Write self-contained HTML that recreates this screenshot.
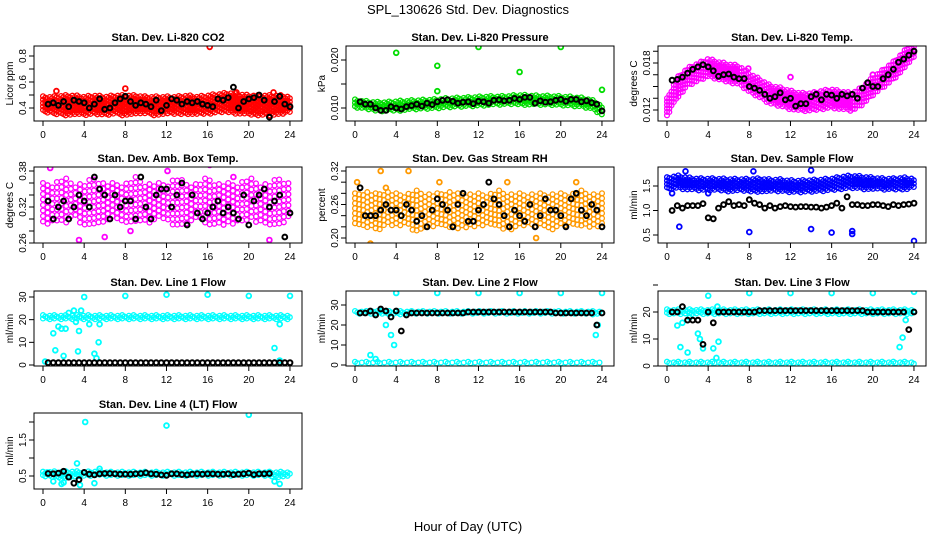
<!DOCTYPE html>
<html><head><meta charset="utf-8"><style>
body{margin:0;background:#fff;}
svg{display:block;font-family:"Liberation Sans",Arial,sans-serif;}
</style></head><body>
<svg id="c" width="936" height="540" viewBox="0 0 936 540">
<text x="468" y="14" text-anchor="middle" font-size="13">SPL_130626  Std. Dev. Diagnostics</text>
<text x="468" y="531" text-anchor="middle" font-size="13">Hour of Day (UTC)</text>
</svg>
<script>
const hours=[0,1,2,3,4,5,6,7,8,9,10,11,12,13,14,15,16,17,18,19,20,21,22,23,24];
const blackTimes=[0.5,1,1.5,2,2.5,3,3.5,4,4.5,5,5.5,6,6.5,7,7.5,8,8.5,9,9.5,10,10.5,11,11.5,12,12.5,13,13.5,14,14.5,15,15.5,16,16.5,17,17.5,18,18.5,19,19.5,20,20.5,21,21.5,22,22.5,23,23.5,24];
const xTicks=[0,4,8,12,16,20,24];
const titles=["Stan. Dev. Li-820 CO2","Stan. Dev. Li-820 Pressure","Stan. Dev. Li-820 Temp.","Stan. Dev. Amb. Box Temp.","Stan. Dev. Gas Stream RH","Stan. Dev. Sample Flow","Stan. Dev. Line 1 Flow","Stan. Dev. Line 2 Flow","Stan. Dev. Line 3 Flow","Stan. Dev. Line 4 (LT) Flow"];
const yLabels=["Licor ppm","kPa","degrees C","degrees C","percent","ml/min","ml/min","ml/min","ml/min","ml/min"];
const colors=["#ff0000","#00dd00","#ff00ff","#ff00ff","#ff9900","#0000ff","#00ffff","#00ffff","#00ffff","#00ffff"];
const yTicks=[[0.4,0.5,0.6,0.7,0.8],[0.010,0.015,0.020],[0.012,0.0135,0.015,0.0165,0.018,0.0195],[0.26,0.28,0.30,0.32,0.34,0.36,0.38],[0.20,0.22,0.24,0.26,0.28,0.30,0.32],[0.5,1.0,1.5],[0,10,20,30],[0,10,20,30],[0,10,20,30],[0.5,1.0,1.5,2.0]];
const yTickLabels=[["0.4","","0.6","","0.8"],["0.010","","0.020"],["0.012","","","","0.018",""],["0.26","","","0.32","","","0.38"],["0.20","","","0.26","","","0.32"],["0.5","1.0","1.5"],["0","10","20","30"],["0","10","20","30"],["0","10","20",""],["0.5","","1.5",""]];
const yRefVals=[[0.4,0.8],[0.010,0.020],[0.012,0.018],[0.26,0.38],[0.20,0.32],[0.5,1.5],[0,30],[0,30],[0,20],[0.5,1.5]];
const yRefPix=[[108,56],[108,60],[110,63],[243,171],[238,171],[235,186],[365,297],[365,305],[366,312],[476,440]];
const blackVals=[
[0.43,0.44,0.42,0.45,0.41,0.46,0.45,0.44,0.40,0.43,0.47,0.39,0.40,0.44,0.47,0.49,0.45,0.42,0.44,0.43,0.41,0.46,0.38,0.42,0.47,0.46,0.43,0.45,0.44,0.45,0.43,0.42,0.41,0.47,0.46,0.48,0.56,0.40,0.45,0.47,0.48,0.50,0.46,0.33,0.45,0.49,0.43,0.41],
[0.0113,0.0108,0.0108,0.0100,0.0095,0.0095,0.0103,0.0100,0.0098,0.0103,0.0105,0.0108,0.0104,0.0110,0.0107,0.0113,0.0116,0.0117,0.0114,0.0110,0.0112,0.0113,0.0109,0.0114,0.0113,0.0110,0.0116,0.0117,0.0115,0.0116,0.0120,0.0118,0.0122,0.0122,0.0110,0.0115,0.0112,0.0113,0.0116,0.0118,0.0114,0.0118,0.0118,0.0113,0.0115,0.0111,0.0108,0.0094],
[0.0158,0.0159,0.0162,0.0167,0.0172,0.0175,0.0178,0.0175,0.0170,0.0163,0.0165,0.0166,0.0162,0.0160,0.0160,0.0150,0.0148,0.0145,0.0140,0.0135,0.0137,0.0142,0.0133,0.0135,0.0125,0.0128,0.0128,0.0137,0.0140,0.0133,0.0140,0.0139,0.0135,0.0140,0.0138,0.0140,0.0135,0.0148,0.0155,0.0150,0.0150,0.0160,0.0165,0.0172,0.0181,0.0185,0.0190,0.0195],
[0.33,0.30,0.32,0.33,0.30,0.32,0.34,0.33,0.32,0.37,0.35,0.34,0.30,0.34,0.32,0.33,0.33,0.30,0.37,0.32,0.30,0.34,0.35,0.35,0.32,0.34,0.36,0.29,0.34,0.31,0.30,0.31,0.32,0.33,0.31,0.32,0.31,0.30,0.34,0.29,0.33,0.34,0.35,0.32,0.33,0.34,0.27,0.31],
[0.29,0.24,0.24,0.24,0.25,0.26,0.25,0.25,0.24,0.26,0.25,0.23,0.24,0.22,0.25,0.27,0.26,0.25,0.22,0.26,0.28,0.23,0.23,0.25,0.26,0.30,0.27,0.26,0.24,0.22,0.25,0.24,0.23,0.26,0.22,0.24,0.27,0.25,0.25,0.24,0.22,0.27,0.28,0.25,0.24,0.26,0.25,0.22],
[1.0,1.1,1.05,1.1,1.1,1.1,1.14,0.85,0.83,1.05,1.12,1.18,1.1,1.12,1.1,1.22,1.15,1.12,1.05,1.1,1.05,1.08,1.1,1.08,1.07,1.08,1.08,1.07,1.07,1.05,1.07,1.1,1.15,1.05,1.28,1.12,1.12,1.1,1.1,1.12,1.12,1.1,1.08,1.12,1.1,1.12,1.13,1.15],
[1,1,1,1,1,1,1,1,1,1,1,1,1,1,1,1,1,1,1,1,1,1,1,1,1,1,1,1,1,1,1,1,1,1,1,1,1,1,1,1,1,1,1,1,1,1,1,1],
[26,26,27,25,28,27,24,27,17,25,26,26,26,26,26,26,26,26,26,26,26,26.5,26.5,26.5,26.5,26.5,26.5,26.5,26.5,26.5,26.5,26.5,26.5,26.5,26.5,26.5,26.5,26.5,26,26,26,26,26,26,26,26,20,26],
[20,20,22,17,17,17,8,20,16,20,20,20,20,20,20,20,20,20.5,20.5,20.5,20.5,20.5,20.5,20.5,20.5,20.5,20.5,20.5,20.5,20.5,20.5,20.5,20.5,20.5,20.5,20.5,20.5,20.5,20,20,20,20,20,20,20,20,13.5,20],
[0.57,0.56,0.58,0.63,0.47,0.30,0.40,0.60,0.55,0.53,0.56,0.57,0.57,0.56,0.55,0.55,0.55,0.56,0.57,0.59,0.56,0.55,0.53,0.52,0.56,0.56,0.54,0.53,0.55,0.56,0.55,0.56,0.56,0.55,0.55,0.56,0.54,0.55,0.56,0.58,0.54,0.56,0.56,0.57]];
const bandLo=[
[0.37,0.35,0.34,0.35,0.34,0.35,0.34,0.35,0.34,0.35,0.35,0.34,0.35,0.35,0.35,0.35,0.35,0.36,0.36,0.35,0.35,0.34,0.34,0.35,0.36],
[0.0100,0.0097,0.0093,0.0093,0.0093,0.0095,0.0097,0.0098,0.0099,0.0100,0.0102,0.0103,0.0104,0.0105,0.0106,0.0106,0.0106,0.0106,0.0106,0.0106,0.0105,0.0104,0.0102,0.0098,0.0085],
[0.0112,0.0135,0.0150,0.0156,0.0162,0.0158,0.0155,0.0152,0.0143,0.0135,0.0128,0.0124,0.0120,0.0118,0.0118,0.0120,0.0122,0.0120,0.0118,0.0126,0.0138,0.0148,0.0158,0.0171,0.0186],
[0.29,0.29,0.29,0.30,0.29,0.29,0.29,0.30,0.29,0.29,0.29,0.30,0.29,0.29,0.29,0.30,0.29,0.29,0.29,0.29,0.30,0.29,0.29,0.29,0.30],
[0.22,0.22,0.21,0.22,0.22,0.22,0.21,0.22,0.22,0.22,0.21,0.22,0.22,0.22,0.22,0.21,0.22,0.22,0.22,0.21,0.22,0.22,0.22,0.22,0.22],
[1.42,1.45,1.42,1.40,1.40,1.40,1.38,1.40,1.38,1.38,1.38,1.38,1.36,1.36,1.38,1.38,1.40,1.42,1.45,1.42,1.42,1.42,1.42,1.42,1.45],
[20,20,20,20,20,20,20,20,20,20,20,20,20,20,20,20,20,20,20,20,20,20,20,20,20],
[0.6,0.6,0.6,0.6,0.6,0.6,0.6,0.6,0.6,0.6,0.6,0.6,0.6,0.6,0.6,0.6,0.6,0.6,0.6,0.6,0.6,0.6,0.6,0.6,0.6],
[0.6,0.6,0.6,0.6,0.6,0.6,0.6,0.6,0.6,0.6,0.6,0.6,0.6,0.6,0.6,0.6,0.6,0.6,0.6,0.6,0.6,0.6,0.6,0.6,0.6],
[0.47,0.45,0.40,0.45,0.48,0.50,0.50,0.50,0.50,0.50,0.50,0.50,0.50,0.50,0.50,0.50,0.50,0.50,0.50,0.50,0.50,0.50,0.48,0.45,0.48]];
const bandHi=[
[0.49,0.49,0.50,0.50,0.49,0.50,0.49,0.50,0.50,0.50,0.49,0.49,0.49,0.49,0.50,0.49,0.50,0.51,0.52,0.51,0.50,0.50,0.50,0.50,0.49],
[0.0118,0.0115,0.0113,0.0113,0.0115,0.0116,0.0117,0.0118,0.0119,0.0121,0.0122,0.0123,0.0124,0.0125,0.0125,0.0126,0.0128,0.0127,0.0126,0.0126,0.0125,0.0124,0.0122,0.0118,0.0105],
[0.0135,0.0162,0.0174,0.0180,0.0186,0.0182,0.0179,0.0177,0.0167,0.0160,0.0152,0.0149,0.0145,0.0142,0.0142,0.0145,0.0147,0.0144,0.0142,0.0150,0.0162,0.0172,0.0182,0.0195,0.0208],
[0.36,0.36,0.37,0.36,0.36,0.37,0.36,0.36,0.36,0.37,0.36,0.36,0.36,0.37,0.36,0.36,0.37,0.36,0.36,0.36,0.37,0.36,0.36,0.37,0.36],
[0.28,0.285,0.28,0.285,0.28,0.28,0.285,0.28,0.28,0.285,0.28,0.28,0.28,0.28,0.285,0.28,0.28,0.28,0.28,0.28,0.28,0.28,0.285,0.28,0.28],
[1.68,1.72,1.68,1.66,1.66,1.66,1.65,1.65,1.65,1.66,1.64,1.64,1.62,1.62,1.63,1.64,1.66,1.70,1.72,1.70,1.68,1.66,1.66,1.68,1.66],
[22,22,22,22,22,22,22,22,22,22,22,22,22,22,22,22,22,22,22,22,22,22,22,22,22],
[1.6,1.6,1.6,1.6,1.6,1.6,1.6,1.6,1.6,1.6,1.6,1.6,1.6,1.6,1.6,1.6,1.6,1.6,1.6,1.6,1.6,1.6,1.6,1.6,1.6],
[1.6,1.6,1.6,1.6,1.6,1.6,1.6,1.6,1.6,1.6,1.6,1.6,1.6,1.6,1.6,1.6,1.6,1.6,1.6,1.6,1.6,1.6,1.6,1.6,1.6],
[0.62,0.63,0.63,0.64,0.62,0.64,0.62,0.62,0.62,0.62,0.62,0.62,0.62,0.62,0.62,0.62,0.62,0.62,0.62,0.62,0.62,0.62,0.62,0.62,0.62]];
const band2Lo=[null,null,null,null,null,null,null,
[25.5,25.5,25.5,25,25,25.5,25.5,25.5,25.5,25.5,25.5,25.5,25.5,25.5,25.5,25.5,25.5,25.5,25.5,25.5,25.5,25.5,25.5,25,25],
[19,19,19,19,19,19,19,19,19,19,19,19,19,19,19,19,19,19,19,19,19,19,19,19,19],null];
const band2Hi=[null,null,null,null,null,null,null,
[27,27,27,27,27,27,27,27,27,27,27,27,27,27,27,27,27,27,27,27,27,27,27,27,27],
[21,21,21,21,21,21,21,21,21,21,21,21,21,21,21,21,21,21,21,21,21,21,21,21,21],null];
const outT=[[16.2,8,1.3,18.8,22.4],[4,8,8,12,16,20,24],[7.9,12,20],[0.7,3.5,8.5,12.1,16.2,18.5,22,6],[0.2,1.5,2.5,5.2,8.2,14.8,17.6,21.5,3],[0.5,1.2,8,14,16,18,18,24,4,1.8,14,8.4],
[0.2,1,1.2,1.5,1.8,2,2.2,2.5,3,3.2,3.4,3.5,3.7,4,4.5,5,5.2,5.4,5.5,8,12,16,20,24,22.5,23,23],
[4,8,12,16,20,24,1.5,2,3,3.5,3.8,2.5,23.4,23.6],
[1,1.3,1.5,2,2.2,3,3.2,3.5,4,4.5,4.8,5,4.9,8,12,16,20,24,22.6,22.9,23.2],
[1,1.8,2,3.3,3.6,4.1,5,5.5,12,20,22.5,23,0.4]];
const outV=[[0.87,0.55,0.53,0.52,0.52],[0.0215,0.0188,0.0135,0.0227,0.0175,0.0227,0.0138],[0.0173,0.0162,0.0165],[0.385,0.265,0.28,0.38,0.39,0.37,0.265,0.27],[0.30,0.19,0.32,0.32,0.30,0.30,0.20,0.30,0.29],[1.35,0.67,0.56,0.62,0.55,0.52,0.58,0.38,1.35,1.8,1.82,1.8],
[1.5,14,6.5,17,16,4,16,23,24,19,6,15,24,30,18,5,3,10,18,30.5,31,31,30.5,30.5,7.5,18,2],
[36,36,36,36,36,36,5,3,20,15,10,27,15,20],
[15,7,16,5,18,12,10,6.5,26,6.5,3,9,22,27,27,27,27,27.5,7,10.5,17],
[0.35,0.28,0.32,0.85,0.25,2.0,0.3,0.7,1.9,2.2,0.35,0.28,0.6]];
// rendering density (style, not data): time step and pixel step of band fill
const fillTStep=[0.22,0.22,0.22,0.45,0.4,0.22,0.22,0.22,0.22,0.22];
const fillYStep=[3.4,3.4,3.4,5.5,5,3.4,3.4,3.4,3.4,3.4];

const svg=document.getElementById('c');
const NS='http://www.w3.org/2000/svg';
const rowTop=[46,167,291,413], rowBot=[121,243,366,489];
function mk(tag,attrs,parent){const e=document.createElementNS(NS,tag);for(const k in attrs)e.setAttribute(k,attrs[k]);parent.appendChild(e);return e;}
function interp(arr,t){const i=Math.min(23,Math.floor(t));const f=t-i;return arr[i]*(1-f)+arr[i+1]*f;}
function circ(g,x,y,col,top,bot,sw){if(y<top-2||y>bot+2)return;const c=mk('circle',{cx:x.toFixed(1),cy:y.toFixed(1),r:2.4,fill:'none',stroke:col,'stroke-width':sw},g);

}

for(let p=0;p<10;p++){
  const col=p%3,row=Math.floor(p/3);
  const left=34+312*col,right=302+312*col,top=rowTop[row],bot=rowBot[row];
  const xs=t=>43+312*col+t*10.29;
  const v0=yRefVals[p][0],v1=yRefVals[p][1],p0=yRefPix[p][0],p1=yRefPix[p][1];
  const ys=v=>p0+(v-v0)*(p1-p0)/(v1-v0);
  const g=mk('g',{},svg);
  
  
  const tt=mk('text',{x:(left+right)/2,y:top-5,'text-anchor':'middle','font-size':11,'font-weight':'bold'},g);tt.textContent=titles[p];
  
  
  const yl=mk('text',{x:0,y:0,transform:`translate(${left-21},${(top+bot)/2}) rotate(-90)`,'text-anchor':'middle','font-size':10},g);yl.textContent=yLabels[p];
  
  
  const cid='clip'+p;const cp=mk('clipPath',{id:cid},g);mk('rect',{x:left,y:top,width:right-left,height:bot-top},cp);
  const pts=mk('g',{'clip-path':`url(#${cid})`},g);
  
  
  const bands=[[bandLo[p],bandHi[p]]];if(band2Lo[p])bands.push([band2Lo[p],band2Hi[p]]);
  let k=0;
  for(const [lo,hi] of bands){
    for(let t=0;t<=24.001;t+=fillTStep[p]){
      const a=ys(interp(lo,t)),b=ys(interp(hi,t));
      const y1=Math.min(a,b),y2=Math.max(a,b);
      const off=((k*7)%5)*fillYStep[p]/5;k++;
      for(let y=y1+off;y<=y2;y+=fillYStep[p]) circ(pts,xs(t),y,colors[p],top,bot,1.3);
    }
  }
  for(let i=0;i<outT[p].length;i++) circ(pts,xs(outT[p][i]),ys(outV[p][i]),colors[p],top,bot,1.8);
  for(let i=0;i<blackTimes.length;i++) circ(pts,xs(blackTimes[i]),ys(blackVals[p][i]),'#000',top,bot,2);
  const bx=mk('rect',{x:left,y:top,width:right-left,height:bot-top,fill:'none',stroke:'#000','stroke-width':1},g);
  
  
  for(const t of xTicks){const x=xs(t);mk('line',{x1:x,y1:bot,x2:x,y2:bot+5,stroke:'#000'},g);
    const l=mk('text',{x:x,y:bot+17,'text-anchor':'middle','font-size':10},g);l.textContent=t;
    
    }
  mk('line',{x1:xs(0),y1:bot,x2:xs(24),y2:bot,stroke:'#000'},g);
  for(let i=0;i<yTicks[p].length;i++){const y=ys(yTicks[p][i]);mk('line',{x1:left-5,y1:y,x2:left,y2:y,stroke:'#000'},g);
    if(yTickLabels[p][i]){const l=mk('text',{x:0,y:0,transform:`translate(${left-8},${y}) rotate(-90)`,'text-anchor':'middle','font-size':10},g);l.textContent=yTickLabels[p][i];
    
    }}
}
</script>
</body></html>
